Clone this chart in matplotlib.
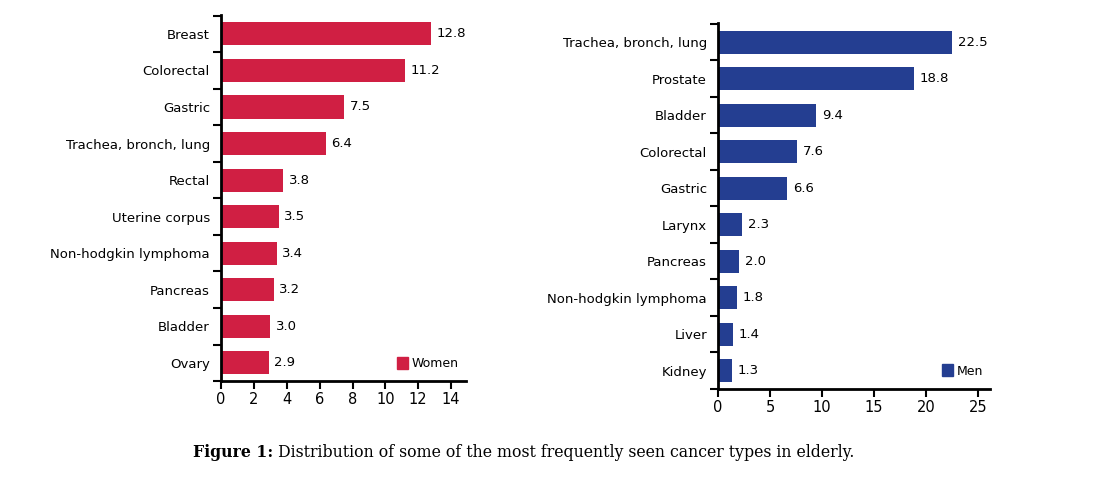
import matplotlib.pyplot as plt
from matplotlib.patches import Patch

women_labels = ['Breast', 'Colorectal', 'Gastric', 'Trachea, bronch, lung', 'Rectal',
                'Uterine corpus', 'Non-hodgkin lymphoma', 'Pancreas', 'Bladder', 'Ovary']
women_values = [12.8, 11.2, 7.5, 6.4, 3.8, 3.5, 3.4, 3.2, 3.0, 2.9]

men_labels = ['Trachea, bronch, lung', 'Prostate', 'Bladder', 'Colorectal', 'Gastric',
              'Larynx', 'Pancreas', 'Non-hodgkin lymphoma', 'Liver', 'Kidney']
men_values = [22.5, 18.8, 9.4, 7.6, 6.6, 2.3, 2.0, 1.8, 1.4, 1.3]

red = '#D01F43'
blue = '#243E91'

plt.rcParams['font.family'] = ['DejaVu Sans']

fig = plt.figure(figsize=(11.03, 4.8), dpi=100)


def draw(ax, labels, values, color, xmax, xticks, legend_name):
    n = len(values)
    ypos = list(range(n))
    ax.barh(ypos, values, height=0.63, color=color)
    ax.set_ylim(n - 0.5, -0.52)
    ax.set_xlim(0, xmax)
    ax.set_xticks(xticks)
    ax.set_xticklabels([str(t) for t in xticks], fontsize=10.5)
    ax.set_yticks(ypos)
    ax.set_yticklabels(labels, fontsize=9.5)
    ax.tick_params(axis='y', length=0, pad=8)
    # boundary ticks between bars
    ax.set_yticks([i - 0.5 for i in range(n + 1)], minor=True)
    ax.tick_params(axis='y', which='minor', length=6, width=1.5, direction='out')
    ax.tick_params(axis='x', length=6, width=1.5, direction='out', pad=2)
    for s in ['top', 'right']:
        ax.spines[s].set_visible(False)
    ax.spines['left'].set_linewidth(2)
    ax.spines['bottom'].set_linewidth(2)
    off = xmax * 0.022
    for y, v in zip(ypos, values):
        ax.text(v + off, y, f'{v:.1f}', va='center', ha='left', fontsize=9.5)
    ax.legend(handles=[Patch(color=color, label=legend_name)], loc='lower right',
              frameon=False, fontsize=9, handlelength=0.9, handleheight=1.1,
              handletextpad=0.25, borderaxespad=0.2, bbox_to_anchor=(1.0, 0.01))


ax1 = fig.add_axes([0.2004, 0.206, 0.222, 0.763])
draw(ax1, women_labels, women_values, red, 14.9, list(range(0, 15, 2)), 'Women')

ax2 = fig.add_axes([0.651, 0.190, 0.247, 0.762])
draw(ax2, men_labels, men_values, blue, 26.2, list(range(0, 26, 5)), 'Men')

# caption: bold lead followed by normal text on one line
t1 = fig.text(0.175, 0.057, 'Figure 1:', family='DejaVu Serif', fontweight='bold',
              fontsize=11.3, ha='left', va='center')
fig.canvas.draw()
bb = t1.get_window_extent()
x2 = (bb.x1 + 5) / fig.bbox.width
fig.text(x2, 0.057, 'Distribution of some of the most frequently seen cancer types in elderly.',
         family='DejaVu Serif', fontsize=11.3, ha='left', va='center')

fig.savefig('out.png', dpi=100)
